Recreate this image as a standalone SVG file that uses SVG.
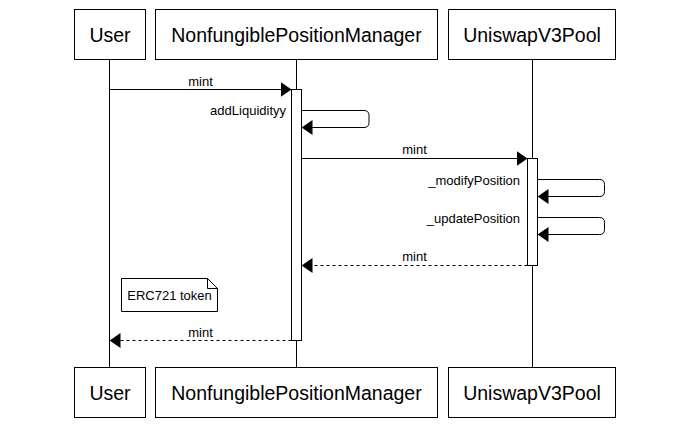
<svg xmlns="http://www.w3.org/2000/svg" width="700" height="424" viewBox="0 0 700 424">
<style>
.box{fill:#fff;stroke:#000;stroke-width:1}
.life{stroke:#000;stroke-width:1;fill:none}
.act{fill:#fff;stroke:#000;stroke-width:1}
.title{font-family:"Liberation Sans",Arial,sans-serif;font-size:19.5px;fill:#000;text-anchor:middle}
.lbl{font-family:"Liberation Sans",Arial,sans-serif;font-size:13px;fill:#000}
.mid{text-anchor:middle}
.end{text-anchor:end}
.msg{stroke:#000;stroke-width:1;fill:none}
.dash{stroke-dasharray:3 3}
</style>
<defs>
<marker id="ah" markerWidth="11" markerHeight="16" refX="11" refY="8" orient="auto" markerUnits="userSpaceOnUse">
<path d="M0,0.5 L11,8 L0,15.5 Z" fill="#000"/>
</marker>
</defs>
<g id="lifelines">
<line class="life" x1="109.5" y1="59.5" x2="109.5" y2="367.5"/>
<line class="life" x1="296.5" y1="59.5" x2="296.5" y2="367.5"/>
<line class="life" x1="532.5" y1="59.5" x2="532.5" y2="367.5"/>
</g>
<g id="user-top"><rect class="box" x="74.5" y="9.5" width="71" height="50"/><text class="title" x="110" y="41.5">User</text></g>
<g id="npm-top"><rect class="box" x="155.5" y="9.5" width="282" height="50"/><text class="title" x="296.5" y="41.5">NonfungiblePositionManager</text></g>
<g id="pool-top"><rect class="box" x="448.5" y="9.5" width="167" height="50"/><text class="title" x="532" y="41.5">UniswapV3Pool</text></g>
<g id="user-bottom"><rect class="box" x="74.5" y="367.5" width="71" height="50"/><text class="title" x="110" y="399.5">User</text></g>
<g id="npm-bottom"><rect class="box" x="155.5" y="367.5" width="282" height="50"/><text class="title" x="296.5" y="399.5">NonfungiblePositionManager</text></g>
<g id="pool-bottom"><rect class="box" x="448.5" y="367.5" width="167" height="50"/><text class="title" x="532" y="399.5">UniswapV3Pool</text></g>
<g id="npm-activation"><rect class="act" x="291.5" y="89.5" width="10" height="251"/></g>
<g id="pool-activation"><rect class="act" x="527.5" y="158.5" width="10" height="107"/></g>
<g id="note-erc721">
<path class="box" d="M121.5,278.5 H207.5 L217.5,288.5 V311.5 H121.5 Z"/>
<path class="msg" d="M207.5,278.5 V288.5 H217.5"/>
<text class="lbl mid" x="169.5" y="299.5">ERC721 token</text>
</g>
<g id="connectors">
<line class="msg" x1="109.5" y1="89.5" x2="291.5" y2="89.5" marker-end="url(#ah)"/>
<text class="lbl mid" x="200.5" y="85.5">mint</text>
<path class="msg" d="M301.5,110.5 H364 Q369,110.5 369,115.5 V122.5 Q369,127.5 364,127.5 H301.5" marker-end="url(#ah)"/>
<text class="lbl end" x="286" y="115">addLiquidityy</text>
<line class="msg" x1="301.5" y1="158.5" x2="527.5" y2="158.5" marker-end="url(#ah)"/>
<text class="lbl mid" x="414.5" y="154">mint</text>
<path class="msg" d="M537.5,179.5 H599.5 Q604.5,179.5 604.5,184.5 V191.5 Q604.5,196.5 599.5,196.5 H537.5" marker-end="url(#ah)"/>
<text class="lbl end" x="520" y="185">_modifyPosition</text>
<path class="msg" d="M537.5,217.5 H599.5 Q604.5,217.5 604.5,222.5 V229.5 Q604.5,234.5 599.5,234.5 H537.5" marker-end="url(#ah)"/>
<text class="lbl end" x="520" y="223">_updatePosition</text>
<line class="msg dash" x1="527.5" y1="265.5" x2="301.5" y2="265.5" marker-end="url(#ah)"/>
<text class="lbl mid" x="414.5" y="261">mint</text>
<line class="msg dash" x1="291.5" y1="340.5" x2="109.5" y2="340.5" marker-end="url(#ah)"/>
<text class="lbl mid" x="200.5" y="337">mint</text>
</g>
</svg>
